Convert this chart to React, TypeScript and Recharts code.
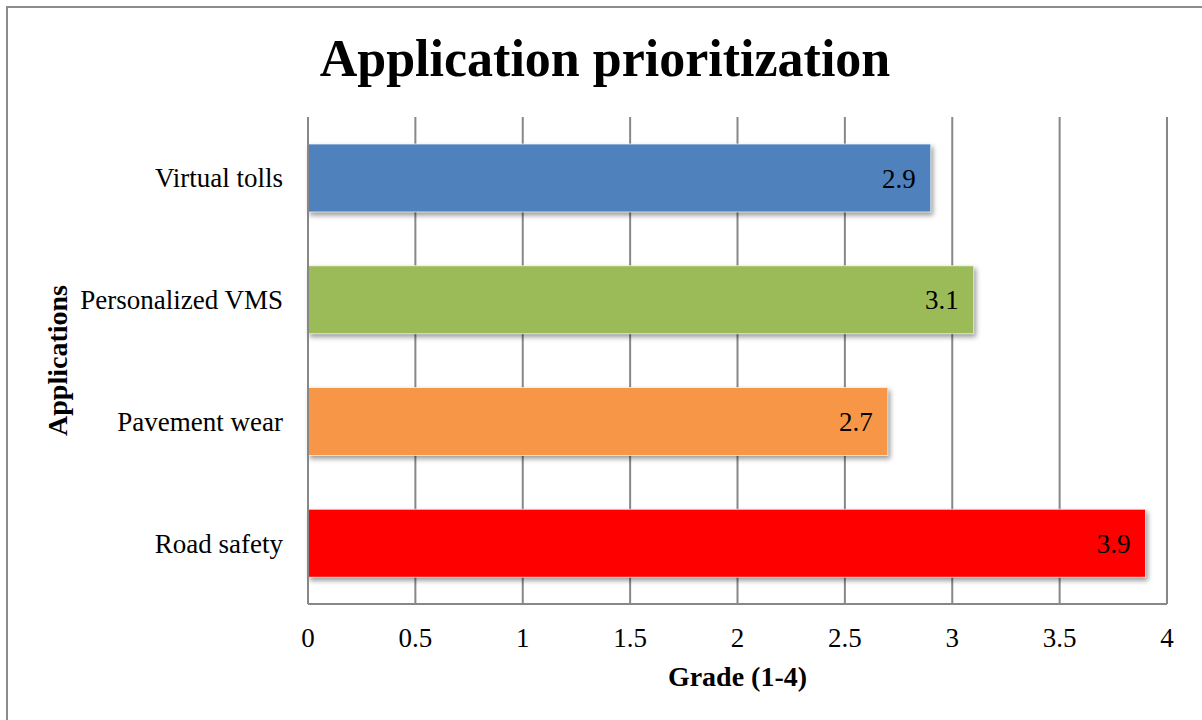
import { BarChart, Bar, XAxis, YAxis, CartesianGrid, LabelList, Cell } from 'recharts';

const CATEGORIES = ['Virtual tolls', 'Personalized VMS', 'Pavement wear', 'Road safety'];
const GRADES = [2.9, 3.1, 2.7, 3.9];
const BAR_COLORS = ['#4F81BD', '#9BBB59', '#F79646', '#FF0000'];
const X_TICKS = [0, 0.5, 1, 1.5, 2, 2.5, 3, 3.5, 4];

const FONT = '"Liberation Serif", "Times New Roman", serif';
const GRID = '#878787';

const data = CATEGORIES.map((name, i) => ({ name, grade: GRADES[i] }));

function ShadowBar(props: any) {
    const { x, y, width, height, index } = props;
    return (
        <rect
            x={x}
            y={y}
            width={width}
            height={height}
            fill={BAR_COLORS[index % BAR_COLORS.length]}
            stroke="#ffffff"
            strokeOpacity={0.7}
            strokeWidth={1}
            style={{ filter: 'drop-shadow(2px 3px 2.5px rgba(0,0,0,0.4))' }}
        />
    );
}

export default function App() {
    return (
        <div style={{ position: 'absolute', left: 0, top: 0, width: 1202, height: 720, overflow: 'hidden', background: '#fff', fontFamily: FONT }}>
            {/* chart frame, only top and left edges fit in the picture */}
            <div style={{ position: 'absolute', left: 6, top: 6, width: 1400, height: 900, borderTop: '2px solid #8c8c8c', borderLeft: '2px solid #8c8c8c' }} />
            <BarChart
                width={1202}
                height={720}
                data={data}
                layout="vertical"
                margin={{ top: 117, right: 35, bottom: 0, left: 0 }}
                style={{ position: 'absolute', left: 0, top: 0 }}
            >
                <text x={605} y={76} textAnchor="middle" fontFamily={FONT} fontWeight="bold" fontSize={52} fill="#000">
                    Application prioritization
                </text>
                <CartesianGrid horizontal={false} stroke={GRID} strokeWidth={2} />
                <XAxis
                    type="number"
                    domain={[0, 4]}
                    ticks={X_TICKS}
                    tickLine={false}
                    tickSize={0}
                    tickMargin={24}
                    axisLine={{ stroke: GRID, strokeWidth: 2 }}
                    tick={{ fill: '#000', fontSize: 27, fontFamily: FONT }}
                    height={116}
                    label={{
                        content: ({ viewBox }: any) => (
                            <text x={viewBox.x + viewBox.width / 2} y={686} textAnchor="middle" fontFamily={FONT} fontWeight="bold" fontSize={28} fill="#000">
                                Grade (1-4)
                            </text>
                        ),
                    }}
                />
                <YAxis
                    type="category"
                    dataKey="name"
                    width={308}
                    tickLine={false}
                    tickSize={0}
                    tickMargin={25}
                    axisLine={{ stroke: GRID, strokeWidth: 2 }}
                    tick={{ fill: '#000', fontSize: 27, fontFamily: FONT }}
                    label={{
                        content: ({ viewBox }: any) => {
                            const cy = viewBox.y + viewBox.height / 2;
                            return (
                                <text x={67} y={cy} transform={`rotate(-90 67 ${cy})`} textAnchor="middle" fontFamily={FONT} fontWeight="bold" fontSize={28} fill="#000">
                                    Applications
                                </text>
                            );
                        },
                    }}
                />
                <Bar dataKey="grade" barSize={68} shape={ShadowBar} isAnimationActive={false}>
                    {data.map((_, i) => (
                        <Cell key={i} fill={BAR_COLORS[i]} />
                    ))}
                    <LabelList dataKey="grade" position="insideRight" offset={15} fill="#000" fontSize={27} fontFamily={FONT} />
                </Bar>
            </BarChart>
        </div>
    );
}
